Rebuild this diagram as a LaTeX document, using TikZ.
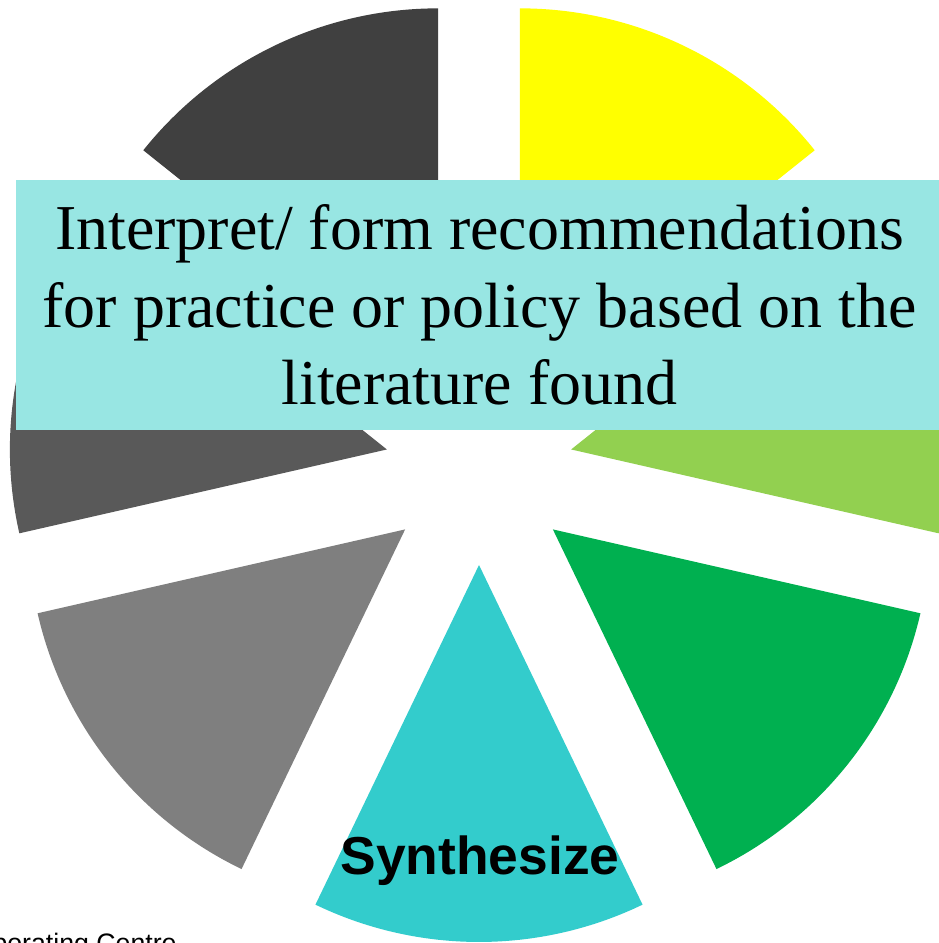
\documentclass[tikz,border=0pt]{standalone}
\usepackage{fontspec}
\setmainfont{Liberation Serif}
\newfontfamily\arialfont{Liberation Sans}
\usetikzlibrary{calc}
\definecolor{WheelDark}{RGB}{64,64,64}
\definecolor{WheelMid}{RGB}{89,89,89}
\definecolor{WheelGray}{RGB}{127,127,127}
\definecolor{WheelCyan}{RGB}{51,204,204}
\definecolor{WheelGreen}{RGB}{0,176,80}
\definecolor{WheelLime}{RGB}{146,208,80}
\definecolor{WheelYellow}{RGB}{255,255,0}
\definecolor{BannerCyan}{RGB}{152,230,227}

\begin{document}
\begin{tikzpicture}[x=0.02cm,y=0.02cm,
        banner/.style={fill=BannerCyan,minimum width=18.54cm,minimum height=5cm,
                       inner sep=0pt,align=center,font=\fontsize{36.4}{44}\selectfont},
        tag/.style={font=\arialfont\bfseries\fontsize{30.4}{36}\selectfont,inner sep=0pt},
        foot/.style={font=\arialfont\fontsize{15.2}{18}\selectfont,inner sep=0pt}
      ]
        \useasboundingbox (0,0) rectangle (939,943);
        \clip (0,0) rectangle (939,943);
        \coordinate (c) at (479,472.5);
        % seven exploded slices
        \foreach \col/\ang in {WheelCyan/270,WheelGreen/321.43,WheelLime/12.86,
                               WheelYellow/64.29,WheelDark/115.71,WheelMid/167.14,WheelGray/218.57}{
          \fill[\col] ($(c)+(\ang:94.5)$) -- ++(\ang-25.714:377)
            arc[start angle=\ang-25.714,end angle=\ang+25.714,radius=377] -- cycle;
        }
        \node[banner] (title) at (479.5,638) {Interpret/ form recommendations\\for practice or policy based on the\\literature found};
        \node[tag,anchor=base] (synth) at (480,68) {Synthesize};
        \node[foot,anchor=base east] (centre) at (177,-10) {Collaborating Centre};
      \end{tikzpicture}
\end{document}
